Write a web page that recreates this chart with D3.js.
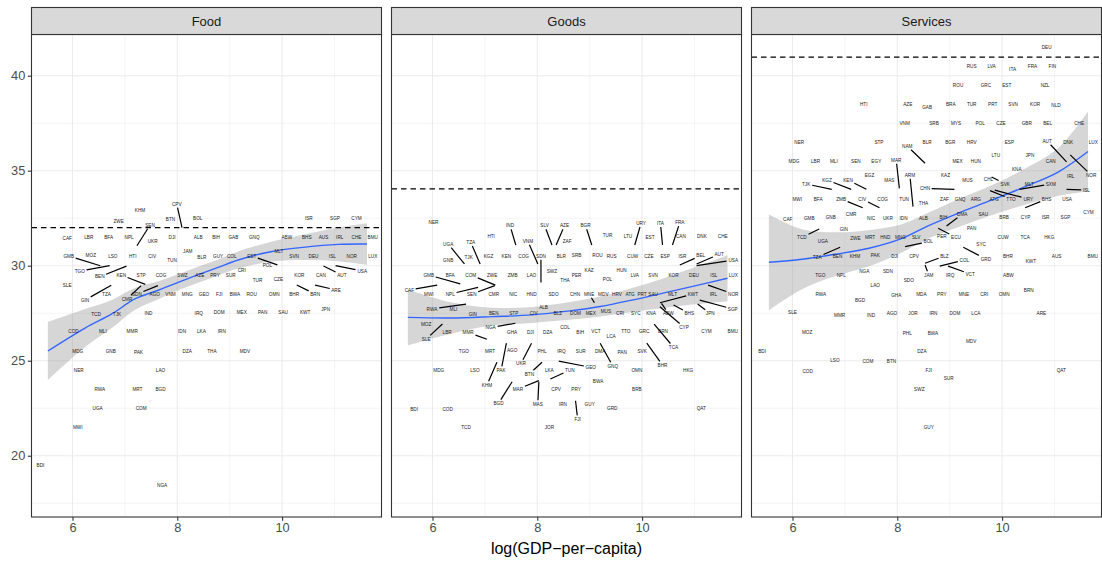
<!DOCTYPE html>
<html>
<head>
<meta charset="utf-8">
<script src="https://cdn.jsdelivr.net/npm/d3@7"></script>
<style>
  body { margin: 0; background: #fff; }
  svg { opacity: 0.999; }
  text { font-family: "Liberation Sans", Arial, Helvetica, sans-serif; }
</style>
</head>
<body>
<svg id="chart" width="1102" height="563"></svg>
<script>
// ---- data -------------------------------------------------------------
const sectors = ["Food", "Goods", "Services"];
const xTicks = [6, 8, 10];
const xMinor = [7, 9, 11];
const yTicks = [20, 25, 30, 35, 40];
const yMinor = [17.5, 22.5, 27.5, 32.5, 37.5];
const referenceLevel = [32.0, 34.04, 40.98];

// [iso3, log GDP per capita, value]
const food = [
  ["KHM",7.29,32.93],["CPV",8.09,32.0],["BTN",7.87,32.46],["BOL",8.39,32.49],["ZWE",6.88,32.32],
  ["SEN",7.23,31.05],["CAF",5.90,31.44],["LBR",6.31,31.49],["BFA",6.69,31.49],["NPL",7.08,31.49],
  ["UKR",7.53,31.30],["DJI",7.90,31.49],["ALB",8.40,31.49],["GMB",6.53,30.0],["MOZ",6.35,30.56],
  ["LSO",6.77,30.51],["HTI",7.15,30.51],["CIV",7.52,30.51],["JAM",8.20,30.77],["TUN",7.90,30.30],
  ["BLR",8.47,30.46],["TGO",6.71,30.0],["BEN",7.03,29.98],["KEN",7.39,29.02],["STP",7.31,29.51],
  ["COG",7.69,29.51],["SWZ",8.10,29.51],["AZE",8.43,29.51],["SLE",5.90,28.95],["GIN",6.74,28.97],
  ["TZA",6.65,28.51],["CMR",7.31,28.95],["SDN",7.63,28.95],["AGO",7.57,28.51],["VNM",7.87,28.51],
  ["MNG",8.19,28.51],["GEO",8.51,28.51],["TCD",6.45,27.44],["TJK",6.85,27.46],["IND",7.45,27.51],
  ["IRQ",8.41,27.51],["COD",6.02,26.53],["MLI",6.58,26.53],["MMR",7.14,26.53],["IDN",8.09,26.53],
  ["LKA",8.46,26.53],["ISR",10.51,32.49],["SGP",11.01,32.49],["CYM",11.42,32.49],["BIH",8.74,31.49],
  ["GAB",9.07,31.49],["GNQ",9.47,31.49],["ABW",10.09,31.49],["BHS",10.47,31.49],["AUS",10.79,31.49],
  ["IRL",11.10,31.49],["CHE",11.42,31.49],["BMU",11.73,31.49],["GUY",8.78,30.51],["COL",9.04,30.51],
  ["EST",9.91,30.04],["MLT",9.94,30.77],["SVN",10.23,30.51],["DEU",10.60,30.51],["ISL",10.96,30.51],
  ["NOR",11.33,30.51],["LUX",11.73,30.51],["POL",9.72,30.04],["CRI",9.23,29.77],["PRY",8.72,29.51],
  ["SUR",9.02,29.51],["TUR",9.53,29.25],["CZE",9.93,29.30],["KOR",10.33,29.51],["CAN",10.74,29.51],
  ["AUT",10.79,29.98],["USA",11.02,30.0],["FJI",8.80,28.51],["BWA",9.10,28.51],["ROU",9.42,28.51],
  ["OMN",9.85,28.51],["BHR",10.23,28.51],["BRN",10.28,28.98],["ARE",10.63,28.98],["DOM",8.80,27.53],
  ["MEX",9.23,27.53],["PAN",9.63,27.53],["SAU",10.02,27.53],["KWT",10.44,27.53],["JPN",10.83,27.72],
  ["IRN",8.85,26.53],["MDG",6.10,25.51],["GNB",6.73,25.51],["PAK",7.26,25.46],["DZA",8.19,25.51],
  ["THA",8.66,25.51],["MDV",9.29,25.51],["NER",6.12,24.51],["LAO",7.68,24.51],["RWA",6.52,23.51],
  ["MRT",7.24,23.51],["BGD",7.68,23.51],["UGA",6.48,22.49],["COM",7.31,22.49],["MWI",6.10,21.49],
  ["BDI",5.39,19.51],["NGA",7.71,18.46]
];
// labels moved away from their country: [iso3, label x, label y]
const foodLabelAt = [
  ["CPV",7.99,33.25],["SEN",7.48,32.14],["GMB",5.93,30.51],["TGO",6.14,29.72],["BEN",6.52,29.42],
  ["KEN",6.93,29.51],["GIN",6.24,28.19],["CMR",7.04,28.25],["SDN",7.23,28.51],["EST",9.42,30.51],
  ["AUT",11.14,29.51],["USA",11.53,29.72],["BRN",10.63,28.51],["ARE",11.03,28.72]
];

const goods = [
  ["NER",6.02,32.28],["IND",7.59,31.09],["SLV",8.28,31.09],["AZE",8.36,31.09],["HTI",7.12,31.53],
  ["UGA",6.61,30.09],["TZA",6.91,30.09],["VNM",8.01,30.09],["ZAF",8.57,31.30],["GNB",6.30,30.30],
  ["TJK",6.69,30.44],["KGZ",7.07,30.51],["KEN",7.41,30.51],["COG",7.74,30.51],["SDN",8.07,29.11],
  ["BLR",8.46,30.51],["SWZ",8.28,29.72],["THA",8.53,29.25],["GMB",6.53,29.04],["BFA",6.34,29.51],
  ["COM",7.20,28.98],["SEN",7.19,28.95],["ZWE",7.14,29.51],["ZMB",7.53,29.51],["LAO",7.89,29.51],
  ["CAF",6.09,28.98],["MWI",5.93,28.51],["NPL",6.87,28.86],["CMR",7.17,28.51],["NIC",7.54,28.51],
  ["HND",7.89,28.51],["SDO",8.31,28.51],["RWA",6.64,27.98],["MLI",6.40,27.72],["GIN",6.77,27.46],
  ["BEN",7.17,27.49],["STP",7.55,27.49],["CIV",7.93,27.49],["ALB",8.12,27.79],["BLZ",8.39,27.49],
  ["MOZ",5.88,26.93],["SLE",6.19,26.93],["LBR",6.28,26.49],["MMR",7.04,26.13],["NGA",7.58,26.97],
  ["GHA",7.52,26.49],["DJI",7.87,26.49],["DZA",8.20,26.49],["COL",8.53,26.74],["BGR",9.04,31.09],
  ["TUR",9.34,31.58],["LTU",9.73,31.53],["URY",9.86,31.09],["ITA",10.39,31.09],["FRA",10.58,31.09],
  ["EST",10.15,31.47],["CAN",10.74,31.53],["DNK",11.14,31.53],["CHE",11.54,31.53],["SRB",8.75,30.56],
  ["ROU",9.15,30.56],["RUS",9.42,30.47],["CUW",9.82,30.51],["CZE",10.13,30.51],["ESP",10.44,30.51],
  ["ISR",10.77,30.51],["BEL",10.72,30.04],["AUT",11.04,30.09],["USA",11.04,30.0],["KAZ",8.99,29.77],
  ["PER",8.75,29.51],["POL",9.34,29.30],["HUN",9.61,29.77],["LVA",9.86,29.51],["SVN",10.21,29.51],
  ["KOR",10.60,29.51],["DEU",10.99,29.51],["ISL",11.37,29.51],["LUX",11.74,29.51],["IRL",11.36,28.51],
  ["NOR",11.26,28.98],["CHN",8.72,28.51],["MNE",9.09,28.05],["MDV",9.26,28.51],["HRV",9.52,28.51],
  ["ATG",9.77,28.51],["PRT",10.0,28.51],["SAU",10.21,28.51],["MLT",10.58,28.51],["KWT",10.34,28.05],
  ["DOM",8.73,27.49],["MEX",9.02,27.49],["MUS",9.31,27.58],["CRI",9.58,27.49],["SYC",9.88,27.49],
  ["KNA",10.17,27.49],["ABW",10.37,28.02],["BHS",10.60,27.93],["JPN",11.06,27.98],["SGP",11.10,28.19],
  ["CYP",10.34,27.84],["BIH",8.82,26.47],["VCT",9.12,26.53],["LCA",9.41,26.26],["TTO",9.69,26.53],
  ["GRC",10.04,26.53],["BRN",10.40,26.53],["CYM",11.23,26.53],["BMU",11.73,26.53],["TCA",10.23,26.92],
  ["TGO",6.60,25.51],["MRT",7.10,25.51],["AGO",7.52,25.56],["PAK",7.41,25.92],["KHM",7.23,24.92],
  ["UKR",7.89,25.92],["PHL",8.09,25.51],["IRQ",8.46,25.51],["SUR",8.83,25.51],["DMA",9.20,25.47],
  ["PAN",9.62,25.44],["SVK",10.0,25.51],["GEO",8.41,24.98],["GNQ",9.20,25.92],["BHR",10.09,25.92],
  ["MDG",6.12,24.51],["LSO",6.81,24.51],["BTN",8.09,24.92],["LKA",8.23,24.51],["TUN",8.25,24.04],
  ["OMN",9.90,24.51],["HKG",10.88,24.51],["BWA",9.16,23.93],["MAR",8.03,23.95],["MAS",8.03,23.90],
  ["BGD",7.52,23.89],["CPV",8.36,23.51],["PRY",8.74,23.51],["BRB",9.90,23.51],["IRN",8.49,22.72],
  ["GUY",9.0,22.72],["GRD",9.43,22.51],["FJI",8.73,22.89],["BDI",5.65,22.46],["COD",6.29,22.46],
  ["QAT",11.13,22.51],["TCD",6.64,21.49],["JOR",8.23,21.49]
];
const goodsLabelAt = [
  ["IND",7.48,32.11],["SLV",8.14,32.11],["AZE",8.52,32.11],["UGA",6.30,31.14],["TZA",6.73,31.23],
  ["VNM",7.82,31.30],["SDN",8.07,30.51],["GMB",5.93,29.51],["COM",6.73,29.51],["SEN",6.75,28.51],
  ["CAF",5.56,28.72],["NPL",6.34,28.51],["RWA",5.99,27.72],["SLE",5.88,26.14],["MMR",6.68,26.49],
  ["NGA",7.11,26.74],["BGR",8.92,32.11],["URY",9.98,32.23],["ITA",10.35,32.23],["FRA",10.72,32.28],
  ["BEL",11.12,30.53],["AUT",11.47,30.60],["USA",11.74,30.30],["NOR",11.74,28.51],["MNE",8.99,28.51],
  ["KWT",10.97,28.51],["ABW",10.50,27.49],["BHS",10.90,27.49],["JPN",11.30,27.49],["SGP",11.73,27.72],
  ["CYP",10.80,26.76],["TCA",10.60,25.71],["PAK",7.31,24.51],["KHM",7.04,23.72],["UKR",7.69,24.86],
  ["GEO",9.02,24.65],["GNQ",9.44,24.72],["BHR",10.39,24.77],["BTN",7.85,24.30],["TUN",8.62,24.51],
  ["MAR",7.63,23.51],["MAS",8.01,22.72],["BGD",7.26,22.76],["FJI",8.77,21.93]
];

const services = [
  ["HTI",7.36,38.51],["AZE",8.20,38.51],["GAB",8.57,38.32],["VNM",8.14,37.49],["NER",6.13,36.49],
  ["STP",7.65,36.49],["NAM",8.53,35.39],["BLR",8.57,36.49],["MDG",6.03,35.51],["LBR",6.44,35.51],
  ["MLI",6.79,35.51],["SEN",7.21,35.51],["EGY",7.60,35.51],["MAR",8.04,34.07],["DEU",10.85,41.49],
  ["RUS",9.42,40.51],["LVA",9.80,40.51],["ITA",10.20,40.34],["FRA",10.58,40.51],["FIN",10.96,40.51],
  ["ROU",9.16,39.51],["GRC",9.69,39.51],["EST",10.09,39.51],["NZL",10.82,39.51],["BRA",9.02,38.51],
  ["TUR",9.42,38.51],["PRT",9.82,38.51],["SVN",10.21,38.51],["KOR",10.63,38.51],["NLD",11.03,38.46],
  ["SRB",8.70,37.49],["MYS",9.12,37.49],["POL",9.58,37.49],["CZE",9.98,37.49],["GBR",10.47,37.49],
  ["BEL",10.87,37.49],["CHE",11.47,37.49],["BGR",9.01,36.49],["HRV",9.42,36.49],["ESP",10.14,36.49],
  ["AUT",11.23,35.46],["DNK",11.26,36.49],["LUX",11.74,36.49],["MEX",9.15,35.51],["HUN",9.50,35.51],
  ["LTU",9.88,35.79],["JPN",10.53,35.83],["CAN",10.93,35.51],["TJK",6.75,34.02],["KGZ",7.12,34.02],
  ["KEN",7.41,34.02],["EGZ",7.47,34.74],["MAS",7.85,34.51],["ARM",8.30,33.11],["CHN",9.09,34.02],
  ["MWI",6.09,33.51],["BFA",6.49,33.51],["ZMB",7.34,33.05],["CIV",7.66,33.05],["COG",7.72,33.51],
  ["TUN",8.13,33.51],["THA",8.50,33.28],["CAF",5.91,32.44],["GMB",6.32,32.49],["GNB",6.73,32.55],
  ["CMR",7.12,32.72],["NIC",7.50,32.49],["UKR",7.82,32.49],["IDN",8.12,32.49],["ALB",8.50,32.49],
  ["GIN",6.98,31.92],["TCD",6.51,31.93],["UGA",6.58,31.30],["ZWE",7.20,31.44],["MRT",7.48,31.49],
  ["HND",7.77,31.49],["MNG",8.06,31.49],["SLV",8.36,31.49],["BOL",8.15,31.0],["TZA",6.91,30.97],
  ["BEN",6.86,30.47],["KHM",7.19,30.47],["PAK",7.58,30.56],["DJI",7.95,30.47],["CPV",8.32,30.47],
  ["TGO",6.53,29.51],["NPL",6.93,29.51],["NGA",7.37,29.72],["SDN",7.82,29.72],["SDO",8.22,29.25],
  ["LAO",7.58,28.98],["KNA",10.28,35.07],["KAZ",8.92,34.77],["MUS",9.34,34.51],["CHL",9.74,34.56],
  ["SVK",9.80,34.67],["IRL",11.31,34.72],["NOR",11.30,35.83],["SXM",10.33,34.02],["MLT",10.52,34.30],
  ["ISL",11.23,34.02],["ZAF",8.90,33.51],["GNQ",9.20,33.51],["ARG",9.50,33.51],["ATG",9.85,33.51],
  ["TTO",9.77,33.95],["URY",9.86,33.98],["BHS",10.44,33.05],["USA",11.24,33.51],["CYM",11.65,32.81],
  ["BRB",10.04,32.53],["CYP",10.45,32.53],["ISR",10.83,32.53],["SGP",11.21,32.53],["BIH",8.88,32.53],
  ["DMA",8.94,32.09],["SAU",9.64,32.72],["PAN",9.42,31.97],["ECU",8.78,31.97],["PER",8.85,31.56],
  ["SYC",9.60,31.14],["CUW",10.02,31.49],["TCA",10.44,31.49],["HKG",10.90,31.49],["BLZ",8.53,30.13],
  ["COL",8.81,29.98],["GRD",9.26,30.97],["JAM",8.53,30.04],["IRQ",9.01,29.51],["VCT",8.97,29.98],
  ["BHR",10.11,30.51],["KWT",10.55,30.21],["AUS",11.04,30.51],["BMU",11.73,30.51],["ABW",10.12,29.51],
  ["BRN",10.51,28.72],["RWA",6.54,28.49],["BGD",7.29,28.19],["GHA",7.98,28.46],["MDA",8.46,28.49],
  ["PRY",8.85,28.49],["MNE",9.27,28.49],["CRI",9.66,28.49],["OMN",10.04,28.49],["SLE",6.0,27.55],
  ["MMR",6.90,27.41],["IND",7.50,27.41],["AGO",7.90,27.49],["JOR",8.30,27.49],["IRN",8.69,27.49],
  ["DOM",9.10,27.49],["LCA",9.50,27.49],["ARE",10.75,27.49],["MOZ",6.28,26.49],["PHL",8.19,26.44],
  ["BWA",8.68,26.44],["MDV",9.41,26.04],["BDI",5.42,25.51],["DZA",8.47,25.51],["LSO",6.81,25.04],
  ["COM",7.44,24.98],["BTN",7.89,24.98],["COD",6.29,24.46],["FJI",8.60,24.51],["QAT",11.13,24.51],
  ["SUR",8.98,24.07],["SWZ",8.42,23.51],["GUY",8.60,21.49]
];
const servicesLabelAt = [
  ["NAM",8.19,36.30],["MAR",7.98,35.56],["AUT",10.86,36.56],["TJK",6.26,34.30],["KGZ",6.66,34.51],
  ["KEN",7.06,34.51],["ARM",8.24,34.77],["CHN",8.53,34.07],["ZMB",6.93,33.51],["CIV",7.33,33.51],
  ["TCD",6.18,31.49],["BOL",8.59,31.26],["TZA",6.47,30.44],["SVK",10.06,34.30],["NOR",11.70,34.77],
  ["SXM",10.93,34.30],["ISL",11.61,33.98],["TTO",10.17,33.51],["URY",10.50,33.51],["BHS",10.85,33.51],
  ["DMA",9.24,32.72],["ECU",9.12,31.49],["BLZ",8.90,30.51],["COL",9.28,30.30],["GRD",9.69,30.35],
  ["JAM",8.60,29.51],["VCT",9.39,29.56]
];

// local regression fit: [log GDP per capita, fitted value, half-width of confidence band]
const foodFit = [
  [5.53,25.51,1.53],[6.24,26.72,1.0],[6.75,27.46,0.74],[7.19,28.25,0.58],[7.65,28.72,0.47],
  [8.03,29.14,0.42],[8.41,29.54,0.42],[8.78,29.91,0.42],[9.16,30.30,0.45],[9.81,30.75,0.53],
  [10.44,30.98,0.68],[11.07,31.12,0.89],[11.62,31.14,1.1]
];
const goodsFit = [
  [5.53,27.28,1.47],[6.33,27.25,0.84],[7.14,27.32,0.47],[7.90,27.41,0.42],[8.62,27.62,0.47],
  [9.20,27.85,0.53],[9.81,28.19,0.63],[10.44,28.58,0.79],[11.07,28.98,1.0],[11.63,29.34,1.21]
];
const servicesFit = [
  [5.55,30.18,2.53],[6.18,30.34,1.58],[6.81,30.60,1.16],[7.46,30.92,0.95],[8.09,31.44,0.74],
  [8.62,32.14,0.68],[9.16,32.76,0.74],[9.81,33.46,0.79],[10.44,34.16,0.95],[11.07,34.93,1.26],
  [11.64,36.01,2.11]
];

// ---- layout -----------------------------------------------------------
const svg = d3.select("#chart");
const panelW = 350, gap = 10, leftEdge = 31.5;
const plotTop = 34.5, plotBottom = 517, stripTop = 7.5;

const x = d3.scaleLinear().domain([5.218, 11.897]).range([0, panelW]);
const y = d3.scaleLinear().domain([16.774, 42.168]).range([plotBottom, plotTop]);

const panels = [
  { rows: food, labelAt: foodLabelAt, fit: foodFit },
  { rows: goods, labelAt: goodsLabelAt, fit: goodsFit },
  { rows: services, labelAt: servicesLabelAt, fit: servicesFit }
];

svg.append("rect").attr("width", 1102).attr("height", 563).attr("fill", "#fff");

const defs = svg.append("defs");

panels.forEach((p, i) => {
  const g = svg.append("g").attr("transform", `translate(${leftEdge + i * (panelW + gap)},0)`);

  defs.append("clipPath").attr("id", "clip" + i)
    .append("rect").attr("x", 0).attr("y", plotTop).attr("width", panelW).attr("height", plotBottom - plotTop);

  const body = g.append("g").attr("clip-path", `url(#clip${i})`);

  // grid
  body.selectAll(".xminor").data(xMinor).join("line")
    .attr("x1", d => x(d)).attr("x2", d => x(d)).attr("y1", plotTop).attr("y2", plotBottom)
    .attr("stroke", "#ebebeb").attr("stroke-width", 0.55);
  body.selectAll(".yminor").data(yMinor).join("line")
    .attr("x1", 0).attr("x2", panelW).attr("y1", d => y(d)).attr("y2", d => y(d))
    .attr("stroke", "#ebebeb").attr("stroke-width", 0.55);
  body.selectAll(".xmajor").data(xTicks).join("line")
    .attr("x1", d => x(d)).attr("x2", d => x(d)).attr("y1", plotTop).attr("y2", plotBottom)
    .attr("stroke", "#ebebeb").attr("stroke-width", 1.1);
  body.selectAll(".ymajor").data(yTicks).join("line")
    .attr("x1", 0).attr("x2", panelW).attr("y1", d => y(d)).attr("y2", d => y(d))
    .attr("stroke", "#ebebeb").attr("stroke-width", 1.1);

  // confidence band and fitted curve
  const band = d3.area().curve(d3.curveCatmullRom)
    .x(d => x(d[0])).y0(d => y(d[1] - d[2])).y1(d => y(d[1] + d[2]));
  const fitLine = d3.line().curve(d3.curveCatmullRom)
    .x(d => x(d[0])).y(d => y(d[1]));
  body.append("path").attr("d", band(p.fit)).attr("fill", "#999").attr("fill-opacity", 0.4);
  body.append("path").attr("d", fitLine(p.fit)).attr("fill", "none")
    .attr("stroke", "#3366ff").attr("stroke-width", 1.4);

  // reference level
  body.append("line")
    .attr("x1", 0).attr("x2", panelW)
    .attr("y1", y(referenceLevel[i])).attr("y2", y(referenceLevel[i]))
    .attr("stroke", "#000").attr("stroke-width", 1.2).attr("stroke-dasharray", "5.5,4");

  // country labels
  const moved = new Map(p.labelAt.map(d => [d[0], [d[1], d[2]]]));
  const segLayer = body.append("g");
  const txtLayer = body.append("g");
  p.rows.forEach(([iso, gx, gy]) => {
    const at = moved.get(iso) || [gx, gy];
    const lx = x(at[0]), ly = y(at[1]);
    const t = txtLayer.append("text")
      .attr("x", lx).attr("y", ly).attr("dy", "0.35em")
      .attr("text-anchor", "middle")
      .attr("font-size", 4.7).attr("fill", "#1a1a1a")
      .text(iso);
    if (moved.has(iso)) {
      const px = x(gx), py = y(gy);
      const bb = t.node().getBBox();
      const hw = bb.width / 2 + 1.5, hh = bb.height / 2 + 1.2;
      const dx = px - lx, dy = py - ly;
      const k = Math.min(dx === 0 ? Infinity : hw / Math.abs(dx), dy === 0 ? Infinity : hh / Math.abs(dy));
      if (k < 1) {
        segLayer.append("line")
          .attr("x1", lx + dx * k).attr("y1", ly + dy * k)
          .attr("x2", px).attr("y2", py)
          .attr("stroke", "#000").attr("stroke-width", 1.2);
      }
    }
  });

  // panel border
  g.append("rect").attr("x", 0).attr("y", plotTop).attr("width", panelW).attr("height", plotBottom - plotTop)
    .attr("fill", "none").attr("stroke", "#333").attr("stroke-width", 1.1);

  // strip
  g.append("rect").attr("x", 0).attr("y", stripTop).attr("width", panelW).attr("height", plotTop - stripTop)
    .attr("fill", "#d9d9d9").attr("stroke", "#333").attr("stroke-width", 1.1);
  g.append("text").attr("x", panelW / 2).attr("y", (stripTop + plotTop) / 2).attr("dy", "0.35em")
    .attr("text-anchor", "middle").attr("font-size", 13).attr("fill", "#1a1a1a")
    .text(sectors[i]);

  // bottom axis
  const ax = g.append("g").attr("transform", `translate(0,${plotBottom})`)
    .call(d3.axisBottom(x).tickValues(xTicks).tickSize(3.7).tickPadding(2.5).tickFormat(d3.format("d")));
  ax.select(".domain").remove();
  ax.selectAll("line").attr("stroke", "#333").attr("stroke-width", 1.1);
  ax.selectAll("text").attr("font-size", 12.8).attr("fill", "#4d4d4d")
    .attr("font-family", "Liberation Sans, Arial, sans-serif");

  if (i === 0) {
    const ay = g.append("g")
      .call(d3.axisLeft(y).tickValues(yTicks).tickSize(3.7).tickPadding(2.5).tickFormat(d3.format("d")));
    ay.select(".domain").remove();
    ay.selectAll("line").attr("stroke", "#333").attr("stroke-width", 1.1);
    ay.selectAll("text").attr("font-size", 12.8).attr("fill", "#4d4d4d")
      .attr("font-family", "Liberation Sans, Arial, sans-serif");
  }
});

svg.append("text")
  .attr("x", leftEdge + (3 * panelW + 2 * gap) / 2).attr("y", 554)
  .attr("text-anchor", "middle").attr("font-size", 16).attr("fill", "#000")
  .text("log(GDP\u2212per\u2212capita)");
</script>
</body>
</html>
